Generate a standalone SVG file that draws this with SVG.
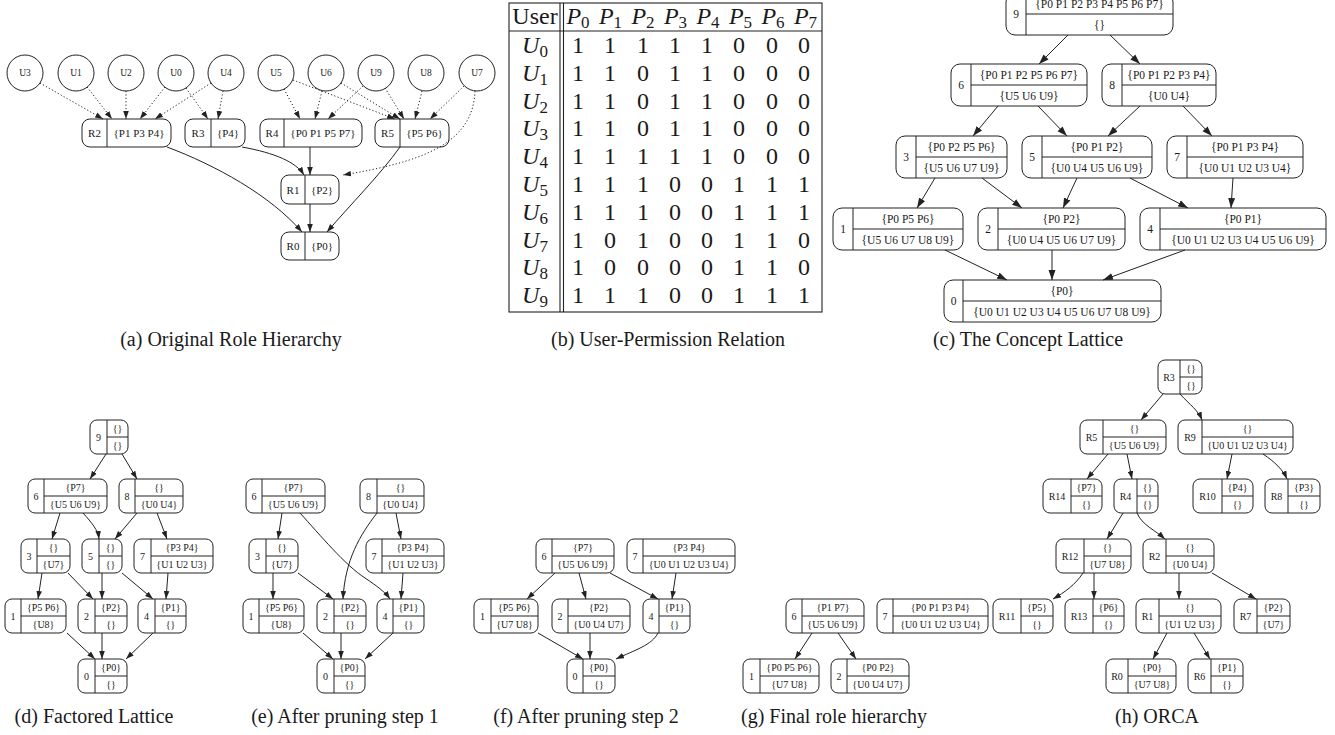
<svg xmlns="http://www.w3.org/2000/svg" width="1335" height="735" viewBox="0 0 1335 735">
<style>
  text { font-family: "Liberation Serif", "Times New Roman", serif; fill: #1a1a1a; }
  .node rect { fill: #fff; stroke: #222; stroke-width: 1; }
  .node circle { fill: #fff; stroke: #222; stroke-width: 1; }
  .node line { stroke: #222; stroke-width: 1; }
  .node text { text-anchor: middle; dominant-baseline: central; }
  .fa text { font-size: 11px; }
  .fu text { font-size: 9.5px; }
  .fc text { font-size: 11.5px; }
  .fs text { font-size: 10px; }
  .edges path, .edges line { fill: none; stroke: #222; stroke-width: 1; }
  .edges .dot { stroke-dasharray: 1.2 2.2; }
  .tab line, .tab rect { stroke: #222; stroke-width: 1.1; fill: none; }
  .tab text { font-size: 24px; text-anchor: middle; }
  .cap { font-size: 20px; text-anchor: middle; }
</style>
<defs>
  <marker id="ah" viewBox="0 0 10 7" refX="10" refY="3.5" markerWidth="8" markerHeight="6" markerUnits="userSpaceOnUse" orient="auto"><path d="M0,0 L10,3.5 L0,7 z" fill="#222"/></marker>
  <marker id="ahc" viewBox="0 0 10 7" refX="10" refY="3.5" markerWidth="10" markerHeight="7.5" markerUnits="userSpaceOnUse" orient="auto"><path d="M0,0 L10,3.5 L0,7 z" fill="#222"/></marker>
</defs>
<rect x="0" y="0" width="1335" height="735" fill="#fff"/>

<!-- ===== (a) Original Role Hierarchy ===== -->
<g id="a-users" class="fu">
  <g id="a-U3" class="node"><circle cx="25" cy="73" r="18"/><text x="25" y="73">U3</text></g>
  <g id="a-U1" class="node"><circle cx="76" cy="73" r="18"/><text x="76" y="73">U1</text></g>
  <g id="a-U2" class="node"><circle cx="126" cy="73" r="18"/><text x="126" y="73">U2</text></g>
  <g id="a-U0" class="node"><circle cx="176" cy="73" r="18"/><text x="176" y="73">U0</text></g>
  <g id="a-U4" class="node"><circle cx="226" cy="73" r="18"/><text x="226" y="73">U4</text></g>
  <g id="a-U5" class="node"><circle cx="276" cy="73" r="18"/><text x="276" y="73">U5</text></g>
  <g id="a-U6" class="node"><circle cx="326" cy="73" r="18"/><text x="326" y="73">U6</text></g>
  <g id="a-U9" class="node"><circle cx="376" cy="73" r="18"/><text x="376" y="73">U9</text></g>
  <g id="a-U8" class="node"><circle cx="426" cy="73" r="18"/><text x="426" y="73">U8</text></g>
  <g id="a-U7" class="node"><circle cx="477" cy="73" r="18"/><text x="477" y="73">U7</text></g>
</g>
<g id="a-roles" class="fa">
  <g id="a-R2" class="node"><rect x="82" y="119" width="89" height="28" rx="8"/><line x1="107" y1="119" x2="107" y2="147"/><text x="94.5" y="133">R2</text><text x="139" y="133">{P1 P3 P4}</text></g>
  <g id="a-R3" class="node"><rect x="185" y="119" width="60" height="28" rx="8"/><line x1="211" y1="119" x2="211" y2="147"/><text x="198" y="133">R3</text><text x="228" y="133">{P4}</text></g>
  <g id="a-R4" class="node"><rect x="260" y="119" width="102" height="28" rx="8"/><line x1="284" y1="119" x2="284" y2="147"/><text x="272" y="133">R4</text><text x="323" y="133">{P0 P1 P5 P7}</text></g>
  <g id="a-R5" class="node"><rect x="375" y="119" width="74" height="28" rx="8"/><line x1="400" y1="119" x2="400" y2="147"/><text x="387.5" y="133">R5</text><text x="424.5" y="133">{P5 P6}</text></g>
  <g id="a-R1" class="node"><rect x="281" y="175" width="58" height="29" rx="8"/><line x1="305" y1="175" x2="305" y2="204"/><text x="293" y="189.5">R1</text><text x="322" y="189.5">{P2}</text></g>
  <g id="a-R0" class="node"><rect x="281" y="232" width="58" height="28" rx="8"/><line x1="305" y1="232" x2="305" y2="260"/><text x="293" y="246">R0</text><text x="322" y="246">{P0}</text></g>
</g>

<!-- ===== (b) table ===== -->
<g id="b-table" class="tab">
  <rect x="509" y="3" width="313" height="309"/>
  <line x1="509" y1="31" x2="822" y2="31"/>
  <line x1="560" y1="3" x2="560" y2="312"/>
  <line x1="563.5" y1="3" x2="563.5" y2="312"/>
  <text x="535" y="24">User</text>
  <text x="578" y="24"><tspan font-style="italic">P</tspan><tspan font-size="17" dy="4">0</tspan></text>
  <text x="610.5" y="24"><tspan font-style="italic">P</tspan><tspan font-size="17" dy="4">1</tspan></text>
  <text x="643" y="24"><tspan font-style="italic">P</tspan><tspan font-size="17" dy="4">2</tspan></text>
  <text x="675.5" y="24"><tspan font-style="italic">P</tspan><tspan font-size="17" dy="4">3</tspan></text>
  <text x="708" y="24"><tspan font-style="italic">P</tspan><tspan font-size="17" dy="4">4</tspan></text>
  <text x="740.5" y="24"><tspan font-style="italic">P</tspan><tspan font-size="17" dy="4">5</tspan></text>
  <text x="773" y="24"><tspan font-style="italic">P</tspan><tspan font-size="17" dy="4">6</tspan></text>
  <text x="805.5" y="24"><tspan font-style="italic">P</tspan><tspan font-size="17" dy="4">7</tspan></text>
  <g id="b-rows">
    <text x="535" y="53"><tspan font-style="italic">U</tspan><tspan font-size="17" dy="4">0</tspan></text>
    <text x="535" y="80.8"><tspan font-style="italic">U</tspan><tspan font-size="17" dy="4">1</tspan></text>
    <text x="535" y="108.6"><tspan font-style="italic">U</tspan><tspan font-size="17" dy="4">2</tspan></text>
    <text x="535" y="136.4"><tspan font-style="italic">U</tspan><tspan font-size="17" dy="4">3</tspan></text>
    <text x="535" y="164.2"><tspan font-style="italic">U</tspan><tspan font-size="17" dy="4">4</tspan></text>
    <text x="535" y="192"><tspan font-style="italic">U</tspan><tspan font-size="17" dy="4">5</tspan></text>
    <text x="535" y="219.8"><tspan font-style="italic">U</tspan><tspan font-size="17" dy="4">6</tspan></text>
    <text x="535" y="247.6"><tspan font-style="italic">U</tspan><tspan font-size="17" dy="4">7</tspan></text>
    <text x="535" y="275.4"><tspan font-style="italic">U</tspan><tspan font-size="17" dy="4">8</tspan></text>
    <text x="535" y="303.2"><tspan font-style="italic">U</tspan><tspan font-size="17" dy="4">9</tspan></text>
  </g>
  <g id="b-values">
    <text y="53"><tspan x="578">1</tspan><tspan x="610">1</tspan><tspan x="643">1</tspan><tspan x="675">1</tspan><tspan x="707">1</tspan><tspan x="739">0</tspan><tspan x="772">0</tspan><tspan x="804">0</tspan></text>
    <text y="80.8"><tspan x="578">1</tspan><tspan x="610">1</tspan><tspan x="643">0</tspan><tspan x="675">1</tspan><tspan x="707">1</tspan><tspan x="739">0</tspan><tspan x="772">0</tspan><tspan x="804">0</tspan></text>
    <text y="108.6"><tspan x="578">1</tspan><tspan x="610">1</tspan><tspan x="643">0</tspan><tspan x="675">1</tspan><tspan x="707">1</tspan><tspan x="739">0</tspan><tspan x="772">0</tspan><tspan x="804">0</tspan></text>
    <text y="136.4"><tspan x="578">1</tspan><tspan x="610">1</tspan><tspan x="643">0</tspan><tspan x="675">1</tspan><tspan x="707">1</tspan><tspan x="739">0</tspan><tspan x="772">0</tspan><tspan x="804">0</tspan></text>
    <text y="164.2"><tspan x="578">1</tspan><tspan x="610">1</tspan><tspan x="643">1</tspan><tspan x="675">1</tspan><tspan x="707">1</tspan><tspan x="739">0</tspan><tspan x="772">0</tspan><tspan x="804">0</tspan></text>
    <text y="192"><tspan x="578">1</tspan><tspan x="610">1</tspan><tspan x="643">1</tspan><tspan x="675">0</tspan><tspan x="707">0</tspan><tspan x="739">1</tspan><tspan x="772">1</tspan><tspan x="804">1</tspan></text>
    <text y="219.8"><tspan x="578">1</tspan><tspan x="610">1</tspan><tspan x="643">1</tspan><tspan x="675">0</tspan><tspan x="707">0</tspan><tspan x="739">1</tspan><tspan x="772">1</tspan><tspan x="804">1</tspan></text>
    <text y="247.6"><tspan x="578">1</tspan><tspan x="610">0</tspan><tspan x="643">1</tspan><tspan x="675">0</tspan><tspan x="707">0</tspan><tspan x="739">1</tspan><tspan x="772">1</tspan><tspan x="804">0</tspan></text>
    <text y="275.4"><tspan x="578">1</tspan><tspan x="610">0</tspan><tspan x="643">0</tspan><tspan x="675">0</tspan><tspan x="707">0</tspan><tspan x="739">1</tspan><tspan x="772">1</tspan><tspan x="804">0</tspan></text>
    <text y="303.2"><tspan x="578">1</tspan><tspan x="610">1</tspan><tspan x="643">1</tspan><tspan x="675">0</tspan><tspan x="707">0</tspan><tspan x="739">1</tspan><tspan x="772">1</tspan><tspan x="804">1</tspan></text>
  </g>
</g>

<!-- ===== (c) Concept Lattice ===== -->
<g id="c-nodes" class="fc">
  <g id="c-n9" class="node"><rect x="1006" y="-7" width="167" height="42" rx="9"/><line x1="1026" y1="-7" x2="1026" y2="35"/><line x1="1026" y1="14" x2="1173" y2="14"/><text x="1016" y="14">9</text><text x="1099.5" y="3.5">{P0 P1 P2 P3 P4 P5 P6 P7}</text><text x="1099.5" y="24.5">{}</text></g>
  <g id="c-n6" class="node"><rect x="951" y="64" width="136" height="42" rx="9"/><line x1="971" y1="64" x2="971" y2="106"/><line x1="971" y1="85" x2="1087" y2="85"/><text x="961" y="85">6</text><text x="1029" y="74.5">{P0 P1 P2 P5 P6 P7}</text><text x="1029" y="95.5">{U5 U6 U9}</text></g>
  <g id="c-n8" class="node"><rect x="1102" y="64" width="114" height="42" rx="9"/><line x1="1122" y1="64" x2="1122" y2="106"/><line x1="1122" y1="85" x2="1216" y2="85"/><text x="1112" y="85">8</text><text x="1169" y="74.5">{P0 P1 P2 P3 P4}</text><text x="1169" y="95.5">{U0 U4}</text></g>
  <g id="c-n3" class="node"><rect x="896" y="136" width="111" height="42" rx="9"/><line x1="916" y1="136" x2="916" y2="178"/><line x1="916" y1="157" x2="1007" y2="157"/><text x="906" y="157">3</text><text x="961.5" y="146.5">{P0 P2 P5 P6}</text><text x="961.5" y="167.5">{U5 U6 U7 U9}</text></g>
  <g id="c-n5" class="node"><rect x="1022" y="136" width="130" height="42" rx="9"/><line x1="1042" y1="136" x2="1042" y2="178"/><line x1="1042" y1="157" x2="1152" y2="157"/><text x="1032" y="157">5</text><text x="1097" y="146.5">{P0 P1 P2}</text><text x="1097" y="167.5">{U0 U4 U5 U6 U9}</text></g>
  <g id="c-n7" class="node"><rect x="1167" y="136" width="136" height="42" rx="9"/><line x1="1187" y1="136" x2="1187" y2="178"/><line x1="1187" y1="157" x2="1303" y2="157"/><text x="1177" y="157">7</text><text x="1245" y="146.5">{P0 P1 P3 P4}</text><text x="1245" y="167.5">{U0 U1 U2 U3 U4}</text></g>
  <g id="c-n1" class="node"><rect x="833" y="208" width="130" height="42" rx="9"/><line x1="853" y1="208" x2="853" y2="250"/><line x1="853" y1="229" x2="963" y2="229"/><text x="843" y="229">1</text><text x="908" y="218.5">{P0 P5 P6}</text><text x="908" y="239.5">{U5 U6 U7 U8 U9}</text></g>
  <g id="c-n2" class="node"><rect x="978" y="208" width="147" height="42" rx="9"/><line x1="998" y1="208" x2="998" y2="250"/><line x1="998" y1="229" x2="1125" y2="229"/><text x="988" y="229">2</text><text x="1061.5" y="218.5">{P0 P2}</text><text x="1061.5" y="239.5">{U0 U4 U5 U6 U7 U9}</text></g>
  <g id="c-n4" class="node"><rect x="1140" y="208" width="186" height="42" rx="9"/><line x1="1160" y1="208" x2="1160" y2="250"/><line x1="1160" y1="229" x2="1326" y2="229"/><text x="1150" y="229">4</text><text x="1243" y="218.5">{P0 P1}</text><text x="1243" y="239.5">{U0 U1 U2 U3 U4 U5 U6 U9}</text></g>
  <g id="c-n0" class="node"><rect x="944" y="280" width="217" height="42" rx="9"/><line x1="963" y1="280" x2="963" y2="322"/><line x1="963" y1="301" x2="1161" y2="301"/><text x="953.5" y="301">0</text><text x="1062" y="290.5">{P0}</text><text x="1062" y="311.5">{U0 U1 U2 U3 U4 U5 U6 U7 U8 U9}</text></g>
</g>

<!-- ===== (d) Factored Lattice ===== -->
<g id="d-nodes" class="fs">
  <g id="d-n9" class="node"><rect x="90" y="420" width="38" height="34" rx="7"/><line x1="107" y1="420" x2="107" y2="454"/><line x1="107" y1="437" x2="128" y2="437"/><text x="98.5" y="437">9</text><text x="117.5" y="428.5">{}</text><text x="117.5" y="445.5">{}</text></g>
  <g id="d-n6" class="node"><rect x="28" y="479" width="79" height="34" rx="7"/><line x1="44" y1="479" x2="44" y2="513"/><line x1="44" y1="496" x2="107" y2="496"/><text x="36" y="496">6</text><text x="75.5" y="487.5">{P7}</text><text x="75.5" y="504.5">{U5 U6 U9}</text></g>
  <g id="d-n8" class="node"><rect x="119" y="479" width="64" height="34" rx="7"/><line x1="135" y1="479" x2="135" y2="513"/><line x1="135" y1="496" x2="183" y2="496"/><text x="127" y="496">8</text><text x="159" y="487.5">{}</text><text x="159" y="504.5">{U0 U4}</text></g>
  <g id="d-n3" class="node"><rect x="21" y="539" width="49" height="34" rx="7"/><line x1="37" y1="539" x2="37" y2="573"/><line x1="37" y1="556" x2="70" y2="556"/><text x="29" y="556">3</text><text x="53.5" y="547.5">{}</text><text x="53.5" y="564.5">{U7}</text></g>
  <g id="d-n5" class="node"><rect x="82" y="539" width="40" height="34" rx="7"/><line x1="99" y1="539" x2="99" y2="573"/><line x1="99" y1="556" x2="122" y2="556"/><text x="90.5" y="556">5</text><text x="110.5" y="547.5">{}</text><text x="110.5" y="564.5">{}</text></g>
  <g id="d-n7" class="node"><rect x="134" y="539" width="79" height="34" rx="7"/><line x1="151" y1="539" x2="151" y2="573"/><line x1="151" y1="556" x2="213" y2="556"/><text x="142.5" y="556">7</text><text x="182" y="547.5">{P3 P4}</text><text x="182" y="564.5">{U1 U2 U3}</text></g>
  <g id="d-n1" class="node"><rect x="5" y="599" width="61" height="34" rx="7"/><line x1="21" y1="599" x2="21" y2="633"/><line x1="21" y1="616" x2="66" y2="616"/><text x="13" y="616">1</text><text x="43.5" y="607.5">{P5 P6}</text><text x="43.5" y="624.5">{U8}</text></g>
  <g id="d-n2" class="node"><rect x="78" y="599" width="49" height="34" rx="7"/><line x1="95" y1="599" x2="95" y2="633"/><line x1="95" y1="616" x2="127" y2="616"/><text x="86.5" y="616">2</text><text x="111" y="607.5">{P2}</text><text x="111" y="624.5">{}</text></g>
  <g id="d-n4" class="node"><rect x="138" y="599" width="48" height="34" rx="7"/><line x1="155" y1="599" x2="155" y2="633"/><line x1="155" y1="616" x2="186" y2="616"/><text x="146.5" y="616">4</text><text x="170.5" y="607.5">{P1}</text><text x="170.5" y="624.5">{}</text></g>
  <g id="d-n0" class="node"><rect x="78" y="659" width="49" height="34" rx="7"/><line x1="95" y1="659" x2="95" y2="693"/><line x1="95" y1="676" x2="127" y2="676"/><text x="86.5" y="676">0</text><text x="111" y="667.5">{P0}</text><text x="111" y="684.5">{}</text></g>
</g>

<!-- ===== (e) After pruning step 1 ===== -->
<g id="e-nodes" class="fs">
  <g id="e-n6" class="node"><rect x="246" y="479" width="79" height="34" rx="7"/><line x1="262" y1="479" x2="262" y2="513"/><line x1="262" y1="496" x2="325" y2="496"/><text x="254" y="496">6</text><text x="293.5" y="487.5">{P7}</text><text x="293.5" y="504.5">{U5 U6 U9}</text></g>
  <g id="e-n8" class="node"><rect x="360" y="479" width="64" height="34" rx="7"/><line x1="377" y1="479" x2="377" y2="513"/><line x1="377" y1="496" x2="424" y2="496"/><text x="368.5" y="496">8</text><text x="400.5" y="487.5">{}</text><text x="400.5" y="504.5">{U0 U4}</text></g>
  <g id="e-n3" class="node"><rect x="249" y="539" width="49" height="34" rx="7"/><line x1="266" y1="539" x2="266" y2="573"/><line x1="266" y1="556" x2="298" y2="556"/><text x="257.5" y="556">3</text><text x="282" y="547.5">{}</text><text x="282" y="564.5">{U7}</text></g>
  <g id="e-n7" class="node"><rect x="366" y="539" width="78" height="34" rx="7"/><line x1="382" y1="539" x2="382" y2="573"/><line x1="382" y1="556" x2="444" y2="556"/><text x="374" y="556">7</text><text x="413" y="547.5">{P3 P4}</text><text x="413" y="564.5">{U1 U2 U3}</text></g>
  <g id="e-n1" class="node"><rect x="243" y="599" width="61" height="34" rx="7"/><line x1="259" y1="599" x2="259" y2="633"/><line x1="259" y1="616" x2="304" y2="616"/><text x="251" y="616">1</text><text x="281.5" y="607.5">{P5 P6}</text><text x="281.5" y="624.5">{U8}</text></g>
  <g id="e-n2" class="node"><rect x="317" y="599" width="49" height="34" rx="7"/><line x1="334" y1="599" x2="334" y2="633"/><line x1="334" y1="616" x2="366" y2="616"/><text x="325.5" y="616">2</text><text x="350" y="607.5">{P2}</text><text x="350" y="624.5">{}</text></g>
  <g id="e-n4" class="node"><rect x="377" y="599" width="47" height="34" rx="7"/><line x1="393" y1="599" x2="393" y2="633"/><line x1="393" y1="616" x2="424" y2="616"/><text x="385" y="616">4</text><text x="408.5" y="607.5">{P1}</text><text x="408.5" y="624.5">{}</text></g>
  <g id="e-n0" class="node"><rect x="317" y="659" width="48" height="34" rx="7"/><line x1="334" y1="659" x2="334" y2="693"/><line x1="334" y1="676" x2="365" y2="676"/><text x="325.5" y="676">0</text><text x="349.5" y="667.5">{P0}</text><text x="349.5" y="684.5">{}</text></g>
</g>

<!-- ===== (f) After pruning step 2 ===== -->
<g id="f-nodes" class="fs">
  <g id="f-n6" class="node"><rect x="536" y="539" width="78" height="34" rx="7"/><line x1="552" y1="539" x2="552" y2="573"/><line x1="552" y1="556" x2="614" y2="556"/><text x="544" y="556">6</text><text x="583" y="547.5">{P7}</text><text x="583" y="564.5">{U5 U6 U9}</text></g>
  <g id="f-n7" class="node"><rect x="627" y="539" width="108" height="34" rx="7"/><line x1="643" y1="539" x2="643" y2="573"/><line x1="643" y1="556" x2="735" y2="556"/><text x="635" y="556">7</text><text x="689" y="547.5">{P3 P4}</text><text x="689" y="564.5">{U0 U1 U2 U3 U4}</text></g>
  <g id="f-n1" class="node"><rect x="474" y="599" width="64" height="34" rx="7"/><line x1="491" y1="599" x2="491" y2="633"/><line x1="491" y1="616" x2="538" y2="616"/><text x="482.5" y="616">1</text><text x="514.5" y="607.5">{P5 P6}</text><text x="514.5" y="624.5">{U7 U8}</text></g>
  <g id="f-n2" class="node"><rect x="552" y="599" width="78" height="34" rx="7"/><line x1="568" y1="599" x2="568" y2="633"/><line x1="568" y1="616" x2="630" y2="616"/><text x="560" y="616">2</text><text x="599" y="607.5">{P2}</text><text x="599" y="624.5">{U0 U4 U7}</text></g>
  <g id="f-n4" class="node"><rect x="643" y="599" width="47" height="34" rx="7"/><line x1="659" y1="599" x2="659" y2="633"/><line x1="659" y1="616" x2="690" y2="616"/><text x="651" y="616">4</text><text x="674.5" y="607.5">{P1}</text><text x="674.5" y="624.5">{}</text></g>
  <g id="f-n0" class="node"><rect x="567" y="659" width="48" height="34" rx="7"/><line x1="583" y1="659" x2="583" y2="693"/><line x1="583" y1="676" x2="615" y2="676"/><text x="575" y="676">0</text><text x="599" y="667.5">{P0}</text><text x="599" y="684.5">{}</text></g>
</g>

<!-- ===== (g) Final role hierarchy ===== -->
<g id="g-nodes" class="fs">
  <g id="g-n6" class="node"><rect x="786" y="599" width="78" height="34" rx="7"/><line x1="802" y1="599" x2="802" y2="633"/><line x1="802" y1="616" x2="864" y2="616"/><text x="794" y="616">6</text><text x="833" y="607.5">{P1 P7}</text><text x="833" y="624.5">{U5 U6 U9}</text></g>
  <g id="g-n7" class="node"><rect x="877" y="599" width="111" height="34" rx="7"/><line x1="893" y1="599" x2="893" y2="633"/><line x1="893" y1="616" x2="988" y2="616"/><text x="885" y="616">7</text><text x="940.5" y="607.5">{P0 P1 P3 P4}</text><text x="940.5" y="624.5">{U0 U1 U2 U3 U4}</text></g>
  <g id="g-n1" class="node"><rect x="743" y="659" width="76" height="34" rx="7"/><line x1="760" y1="659" x2="760" y2="693"/><line x1="760" y1="676" x2="819" y2="676"/><text x="751.5" y="676">1</text><text x="789.5" y="667.5">{P0 P5 P6}</text><text x="789.5" y="684.5">{U7 U8}</text></g>
  <g id="g-n2" class="node"><rect x="831" y="659" width="78" height="34" rx="7"/><line x1="847" y1="659" x2="847" y2="693"/><line x1="847" y1="676" x2="909" y2="676"/><text x="839" y="676">2</text><text x="878" y="667.5">{P0 P2}</text><text x="878" y="684.5">{U0 U4 U7}</text></g>
</g>

<!-- ===== (h) ORCA ===== -->
<g id="h-nodes" class="fs">
  <g id="h-R3" class="node"><rect x="1158" y="360" width="44" height="34" rx="7"/><line x1="1180" y1="360" x2="1180" y2="394"/><line x1="1180" y1="377" x2="1202" y2="377"/><text x="1169" y="377">R3</text><text x="1191" y="368.5">{}</text><text x="1191" y="385.5">{}</text></g>
  <g id="h-R5" class="node"><rect x="1080" y="420" width="86" height="34" rx="7"/><line x1="1103" y1="420" x2="1103" y2="454"/><line x1="1103" y1="437" x2="1166" y2="437"/><text x="1091.5" y="437">R5</text><text x="1134.5" y="428.5">{}</text><text x="1134.5" y="445.5">{U5 U6 U9}</text></g>
  <g id="h-R9" class="node"><rect x="1178" y="420" width="115" height="34" rx="7"/><line x1="1202" y1="420" x2="1202" y2="454"/><line x1="1202" y1="437" x2="1293" y2="437"/><text x="1190" y="437">R9</text><text x="1247.5" y="428.5">{}</text><text x="1247.5" y="445.5">{U0 U1 U2 U3 U4}</text></g>
  <g id="h-R14" class="node"><rect x="1043" y="479" width="59" height="34" rx="7"/><line x1="1071" y1="479" x2="1071" y2="513"/><line x1="1071" y1="496" x2="1102" y2="496"/><text x="1057" y="496">R14</text><text x="1086.5" y="487.5">{P7}</text><text x="1086.5" y="504.5">{}</text></g>
  <g id="h-R4" class="node"><rect x="1114" y="479" width="44" height="34" rx="7"/><line x1="1137" y1="479" x2="1137" y2="513"/><line x1="1137" y1="496" x2="1158" y2="496"/><text x="1125.5" y="496">R4</text><text x="1147.5" y="487.5">{}</text><text x="1147.5" y="504.5">{}</text></g>
  <g id="h-R10" class="node"><rect x="1193" y="479" width="60" height="34" rx="7"/><line x1="1222" y1="479" x2="1222" y2="513"/><line x1="1222" y1="496" x2="1253" y2="496"/><text x="1207.5" y="496">R10</text><text x="1237.5" y="487.5">{P4}</text><text x="1237.5" y="504.5">{}</text></g>
  <g id="h-R8" class="node"><rect x="1265" y="479" width="55" height="34" rx="7"/><line x1="1288" y1="479" x2="1288" y2="513"/><line x1="1288" y1="496" x2="1320" y2="496"/><text x="1276.5" y="496">R8</text><text x="1304" y="487.5">{P3}</text><text x="1304" y="504.5">{}</text></g>
  <g id="h-R12" class="node"><rect x="1056" y="539" width="75" height="34" rx="7"/><line x1="1084" y1="539" x2="1084" y2="573"/><line x1="1084" y1="556" x2="1131" y2="556"/><text x="1070" y="556">R12</text><text x="1107.5" y="547.5">{}</text><text x="1107.5" y="564.5">{U7 U8}</text></g>
  <g id="h-R2" class="node"><rect x="1143" y="539" width="71" height="34" rx="7"/><line x1="1166" y1="539" x2="1166" y2="573"/><line x1="1166" y1="556" x2="1214" y2="556"/><text x="1154.5" y="556">R2</text><text x="1190" y="547.5">{}</text><text x="1190" y="564.5">{U0 U4}</text></g>
  <g id="h-R11" class="node"><rect x="993" y="599" width="60" height="34" rx="7"/><line x1="1021" y1="599" x2="1021" y2="633"/><line x1="1021" y1="616" x2="1053" y2="616"/><text x="1007" y="616">R11</text><text x="1037" y="607.5">{P5}</text><text x="1037" y="624.5">{}</text></g>
  <g id="h-R13" class="node"><rect x="1065" y="599" width="59" height="34" rx="7"/><line x1="1093" y1="599" x2="1093" y2="633"/><line x1="1093" y1="616" x2="1124" y2="616"/><text x="1079" y="616">R13</text><text x="1108.5" y="607.5">{P6}</text><text x="1108.5" y="624.5">{}</text></g>
  <g id="h-R1" class="node"><rect x="1136" y="599" width="85" height="34" rx="7"/><line x1="1159" y1="599" x2="1159" y2="633"/><line x1="1159" y1="616" x2="1221" y2="616"/><text x="1147.5" y="616">R1</text><text x="1190" y="607.5">{}</text><text x="1190" y="624.5">{U1 U2 U3}</text></g>
  <g id="h-R7" class="node"><rect x="1234" y="599" width="56" height="34" rx="7"/><line x1="1257" y1="599" x2="1257" y2="633"/><line x1="1257" y1="616" x2="1290" y2="616"/><text x="1245.5" y="616">R7</text><text x="1273.5" y="607.5">{P2}</text><text x="1273.5" y="624.5">{U7}</text></g>
  <g id="h-R0" class="node"><rect x="1106" y="659" width="70" height="34" rx="7"/><line x1="1128" y1="659" x2="1128" y2="693"/><line x1="1128" y1="676" x2="1176" y2="676"/><text x="1117" y="676">R0</text><text x="1152" y="667.5">{P0}</text><text x="1152" y="684.5">{U7 U8}</text></g>
  <g id="h-R6" class="node"><rect x="1188" y="659" width="55" height="34" rx="7"/><line x1="1211" y1="659" x2="1211" y2="693"/><line x1="1211" y1="676" x2="1243" y2="676"/><text x="1199.5" y="676">R6</text><text x="1227" y="667.5">{P1}</text><text x="1227" y="684.5">{}</text></g>
</g>

<!-- ===== connectors ===== -->
<g id="edges" class="edges">
  <g id="a-edges" marker-end="url(#ah)">
    <path class="dot" d="M40,83 L103,119"/>
    <path class="dot" d="M87,87 L112,119"/>
    <path class="dot" d="M126,91 L126,119"/>
    <path class="dot" d="M165,87 L140,119"/>
    <path class="dot" d="M211,83 L155,119"/>
    <path class="dot" d="M186,88 L208,119"/>
    <path class="dot" d="M223,91 L218,119"/>
    <path class="dot" d="M284,89 L300,119"/>
    <path class="dot" d="M322,91 L315,119"/>
    <path class="dot" d="M363,86 L328,119"/>
    <path class="dot" d="M293,80 L395,119"/>
    <path class="dot" d="M341,83 L400,119"/>
    <path class="dot" d="M385,88 L404,119"/>
    <path class="dot" d="M422,91 L415,119"/>
    <path class="dot" d="M464,86 L430,119"/>
    <path class="dot" d="M475,91 C473,145 420,162 343,175"/>
    <path d="M167,147 C215,165 270,195 302,232"/>
    <path d="M242,147 C275,153 296,162 304,175"/>
    <path d="M310,147 L310,175"/>
    <path d="M310,204 L310,232"/>
    <path d="M400,147 C380,175 350,205 327,232"/>
  </g>
  <g id="c-edges" marker-end="url(#ahc)">
    <path d="M1068,35 L1039,64"/>
    <path d="M1110,35 L1140,64"/>
    <path d="M998,106 L973,136"/>
    <path d="M1038,106 L1067,136"/>
    <path d="M1140,106 L1108,136"/>
    <path d="M1183,106 L1212,136"/>
    <path d="M935,178 L917,208"/>
    <path d="M982,178 L1022,208"/>
    <path d="M1077,178 L1063,208"/>
    <path d="M1130,178 L1188,208"/>
    <path d="M1233,178 L1231,208"/>
    <path d="M945,250 L1007,280"/>
    <path d="M1052,250 L1052,280"/>
    <path d="M1185,250 L1103,280"/>
  </g>
  <g id="d-edges" marker-end="url(#ah)">
    <path d="M106,454 L90,479"/>
    <path d="M122,454 L137,479"/>
    <path d="M60,513 L52,539"/>
    <path d="M83,513 C92,523 98,530 99,539"/>
    <path d="M137,513 L115,539"/>
    <path d="M157,513 L167,539"/>
    <path d="M42,573 L38,599"/>
    <path d="M68,573 L93,599"/>
    <path d="M102,573 L102,599"/>
    <path d="M122,573 L153,599"/>
    <path d="M168,573 L166,599"/>
    <path d="M67,633 L95,659"/>
    <path d="M102,633 L102,659"/>
    <path d="M153,633 L126,659"/>
  </g>
  <g id="e-edges" marker-end="url(#ah)">
    <path d="M282,513 L278,539"/>
    <path d="M300,513 C320,535 345,565 365,578 C377,586 385,592 390,599"/>
    <path d="M377,513 C360,535 345,560 343,599"/>
    <path d="M396,513 L401,539"/>
    <path d="M273,573 L273,599"/>
    <path d="M298,573 L333,599"/>
    <path d="M403,573 L401,599"/>
    <path d="M303,633 L333,659"/>
    <path d="M341,633 L341,659"/>
    <path d="M393,633 L365,659"/>
  </g>
  <g id="f-edges" marker-end="url(#ah)">
    <path d="M555,573 L527,599"/>
    <path d="M579,573 L586,599"/>
    <path d="M610,573 L658,599"/>
    <path d="M676,573 L672,599"/>
    <path d="M538,633 L583,659"/>
    <path d="M590,633 L590,659"/>
    <path d="M658,633 C652,645 635,650 616,659"/>
  </g>
  <g id="g-edges" marker-end="url(#ah)">
    <path d="M812,633 L795,659"/>
    <path d="M838,633 L856,659"/>
  </g>
  <g id="h-edges" marker-end="url(#ah)">
    <path d="M1163,394 L1141,420"/>
    <path d="M1180,394 C1190,405 1198,410 1202,420"/>
    <path d="M1108,454 L1087,479"/>
    <path d="M1127,454 L1132,479"/>
    <path d="M1232,454 L1227,479"/>
    <path d="M1263,454 C1275,462 1283,470 1287,479"/>
    <path d="M1123,513 L1107,539"/>
    <path d="M1137,513 C1142,525 1155,530 1165,539"/>
    <path d="M1083,573 C1075,585 1065,592 1053,599"/>
    <path d="M1094,573 L1094,599"/>
    <path d="M1179,573 L1179,599"/>
    <path d="M1212,573 L1256,599"/>
    <path d="M1167,633 L1153,659"/>
    <path d="M1194,633 L1210,659"/>
  </g>
</g>

<!-- ===== captions ===== -->
<g id="captions">
  <text class="cap" x="231" y="346">(a) Original Role Hierarchy</text>
  <text class="cap" x="668" y="346">(b) User-Permission Relation</text>
  <text class="cap" x="1028" y="346">(c) The Concept Lattice</text>
  <text class="cap" x="94" y="723">(d) Factored Lattice</text>
  <text class="cap" x="345" y="723">(e) After pruning step 1</text>
  <text class="cap" x="586" y="723">(f) After pruning step 2</text>
  <text class="cap" x="834" y="723">(g) Final role hierarchy</text>
  <text class="cap" x="1157" y="723">(h) ORCA</text>
</g>
</svg>
